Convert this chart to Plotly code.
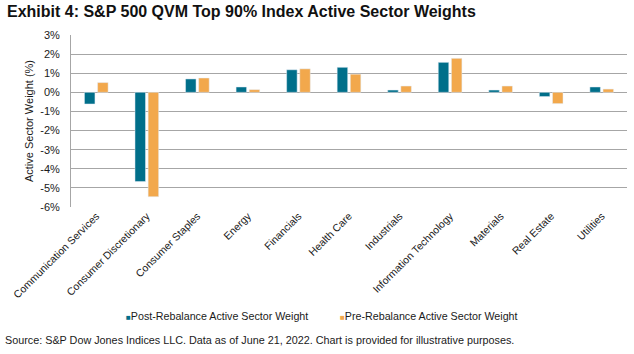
import plotly.graph_objects as go

categories = ["Communication Services", "Consumer Discretionary", "Consumer Staples", "Energy",
              "Financials", "Health Care", "Industrials", "Information Technology",
              "Materials", "Real Estate", "Utilities"]
post = [-0.61, -4.67, 0.70, 0.28, 1.18, 1.31, 0.12, 1.57, 0.12, -0.22, 0.28]
pre = [0.51, -5.46, 0.75, 0.14, 1.23, 0.95, 0.33, 1.78, 0.33, -0.59, 0.17]
tick_vals = [3, 2, 1, 0, -1, -2, -3, -4, -5, -6]
tick_text = [f"{v}%" for v in tick_vals]
series_names = ["Post-Rebalance Active Sector Weight", "Pre-Rebalance Active Sector Weight"]
colors = ["#006F8A", "#F2A84C"]

FONT = "Liberation Sans, Arial, sans-serif"
TXT = "#1a1a1a"

fig = go.Figure()
fig.add_bar(x=categories, y=post, name=series_names[0], marker_color=colors[0])
fig.add_bar(x=categories, y=pre, name=series_names[1], marker_color=colors[1])

fig.update_layout(
    width=634, height=354,
    margin=dict(l=71, r=7, t=35, b=147),
    paper_bgcolor="white", plot_bgcolor="white",
    font=dict(family=FONT, size=11, color=TXT),
    barmode="group", bargap=0.48, bargroupgap=0.2,
    title=dict(text="<b>Exhibit 4: S&P 500 QVM Top 90% Index Active Sector Weights</b>",
               x=0.011, xanchor="left", y=0.985, yanchor="top",
               font=dict(family=FONT, size=16, color="#111")),
    showlegend=False,
)
fig.update_xaxes(tickangle=-45, showline=False, showgrid=False, ticks="",
                 tickfont=dict(family=FONT, size=10.5, color=TXT))
fig.update_yaxes(range=[-6, 3], tickvals=tick_vals, ticktext=tick_text,
                 showgrid=True, gridcolor="#A6A6A6", gridwidth=1,
                 zeroline=True, zerolinecolor="#A6A6A6", zerolinewidth=1,
                 showline=True, linecolor="#A6A6A6", linewidth=1,
                 ticks="", ticklen=0, ticklabelstandoff=8,
                 title=dict(text="Active Sector Weight (%)", standoff=4,
                            font=dict(family=FONT, size=11, color=TXT)),
                 tickfont=dict(family=FONT, size=11, color=TXT))

legend_x = [0.0953, 0.480]
for name, col, lx in zip(series_names, colors, legend_x):
    fig.add_annotation(text=f"<span style='color:{col};font-size:8px'>■</span>{name}",
                       xref="paper", yref="paper", x=lx, y=-0.634, xanchor="left", yanchor="middle",
                       showarrow=False, font=dict(family=FONT, size=10.7, color=TXT))

fig.add_annotation(text="Source: S&P Dow Jones Indices LLC. Data as of June 21, 2022. Chart is provided for illustrative purposes.",
                   xref="paper", yref="paper", x=-0.1223, y=-0.773, xanchor="left", yanchor="middle",
                   showarrow=False, font=dict(family=FONT, size=10.8, color=TXT))
fig.write_html("out.html")
